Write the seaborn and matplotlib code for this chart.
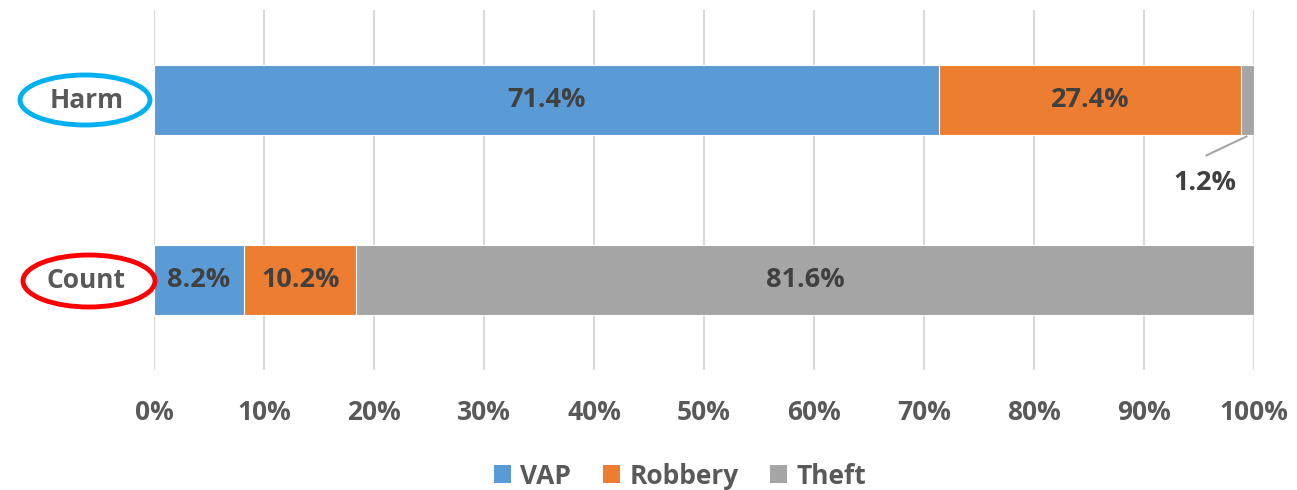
import matplotlib
matplotlib.use("Agg")
import matplotlib.pyplot as plt
from matplotlib.patches import Ellipse, Patch
import seaborn as sns
import pandas as pd
import numpy as np

categories = ["Harm", "Count"]
series = ["VAP", "Robbery", "Theft"]
vap = [71.4, 8.2]
robbery = [27.4, 10.2]
theft = [1.2, 81.6]
colors = ["#5B9BD5", "#ED7D31", "#A5A5A5"]
ticks = [0, 10, 20, 30, 40, 50, 60, 70, 80, 90, 100]

sns.set_theme(style="white")
plt.rcParams['font.family'] = ['Open Sans', 'DejaVu Sans']

fig = plt.figure(figsize=(12.97, 4.9), dpi=100)
ax = fig.add_axes([154/1297, 1-370/490, 1100/1297, 360/490])

vals = np.array([vap, robbery, theft])
cum = np.cumsum(vals, axis=0)
# draw from largest cumulative down so segments stack
for i in range(2, -1, -1):
    df = pd.DataFrame({"cat": categories, "val": cum[i]})
    sns.barplot(data=df, x="val", y="cat", orient="h", color=colors[i],
                width=0.39, saturation=1, ax=ax, edgecolor="white", linewidth=0.8)

ax.set_xlim(0, 100)
ax.set_ylim(1.5, -0.5)
ax.set_xticks(ticks)
ax.set_xticklabels([f"{t}%" for t in ticks], fontsize=19, fontweight="bold", color="#595959")
ax.tick_params(axis="x", pad=21, length=0)
ax.set_yticks([])
ax.set_xlabel("")
ax.set_ylabel("")
for s in ax.spines.values():
    s.set_visible(False)
ax.grid(axis="x", color="#D9D9D9", linewidth=1.5)
ax.set_axisbelow(True)

# data labels
for j, cat in enumerate(categories):
    for i in range(3):
        v = vals[i][j]
        start = cum[i][j] - v
        if v < 3:
            continue
        ax.text(start + v/2, j, f"{v:.1f}%", ha="center", va="center",
                fontsize=19.5, fontweight="bold", color="#404040")
# small theft label for Harm, with leader line
v = vals[2][0]
xc = cum[2][0] - v/2
ax.plot([xc, 95.6], [0.2, 0.31], color="#A5A5A5", lw=1.5, solid_capstyle="butt")
ax.text(95.5, 0.46, f"{v:.1f}%", ha="center", va="center",
        fontsize=19.5, fontweight="bold", color="#404040")

# category labels with ellipses
fig.text(87/1297, 1-100/490, "Harm", ha="center", va="center", fontsize=19,
         fontweight="bold", color="#595959")
fig.text(86/1297, 1-281/490, "Count", ha="center", va="center", fontsize=19,
         fontweight="bold", color="#595959")
ell1 = Ellipse((85, 490-100), 130, 50, transform=None, fill=False, edgecolor="#00B0F0", lw=3.5)
ell2 = Ellipse((89, 490-281), 132, 52, transform=None, fill=False, edgecolor="#FF0000", lw=3.5)
fig.add_artist(ell1)
fig.add_artist(ell2)

handles = [Patch(facecolor=c, edgecolor="none") for c in colors]
leg = fig.legend(handles, series, loc="center", bbox_to_anchor=(680/1297, 1-476/490),
                 ncol=3, frameon=False, handlelength=0.65, handleheight=0.65,
                 columnspacing=1.2, handletextpad=0.35,
                 prop={"size": 19, "weight": "bold"})
for t in leg.get_texts():
    t.set_color("#595959")

fig.savefig("out.png", dpi=100)
